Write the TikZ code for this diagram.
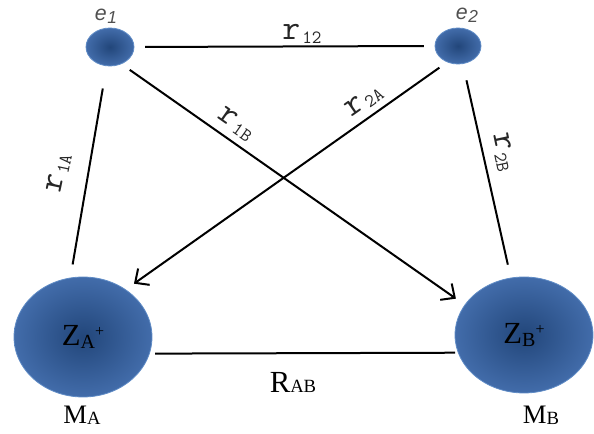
\documentclass[tikz,border=0pt]{standalone}
\usepackage{fontspec}
\setmainfont{Liberation Serif}
\newfontfamily\sansfnt{Liberation Sans}
\usetikzlibrary{shapes.geometric,arrows.meta}
\definecolor{ballin}{RGB}{34,70,122}
\definecolor{ballout}{RGB}{66,108,170}
\definecolor{ballrim}{RGB}{96,140,198}
\definecolor{elabel}{RGB}{80,80,80}
\newcommand\rlabtext[1]{r\kern1.5pt\raisebox{-2.5pt}{\fontsize{14}{15}\selectfont #1}}
\begin{document}
\begin{tikzpicture}[x=0.75pt,y=-0.75pt,
  ball/.style={ellipse,inner sep=0pt,shading=radial,inner color=ballin,outer color=ballout,draw=ballrim,line width=0.6pt},
  conn/.style={line width=1.5pt,draw=black},
  arr/.style={conn,-{Straight Barb[length=8pt,width=15pt,line width=1.5pt]}},
  rlab/.style={font=\ttfamily\fontsize{26}{27}\selectfont,inner sep=0pt,text=black!85},
  elab/.style={font=\sansfnt\itshape\fontsize{16}{18}\selectfont,inner sep=0pt,text=elabel},
  slab/.style={inner sep=0pt,text=black}]
\useasboundingbox (0,0) rectangle (594,434);
% particles
\node[ball,minimum width=36pt,minimum height=28.5pt] (e1) at (110,47) {};
\node[ball,minimum width=34.5pt,minimum height=27pt] (e2) at (458,46) {};
\node[ball,minimum width=103.5pt,minimum height=90pt] (za) at (83,337)
  {\fontsize{23}{24}\selectfont Z\raisebox{-2pt}{\fontsize{15}{16}\selectfont A}\raisebox{7pt}{\fontsize{12}{13}\selectfont +}};
\node[ball,minimum width=103.5pt,minimum height=87pt] (zb) at (524,335)
  {\fontsize{23}{24}\selectfont Z\raisebox{-2pt}{\fontsize{15}{16}\selectfont B}\raisebox{7pt}{\fontsize{12}{13}\selectfont +}};
% labels of particles
\node[elab] (le1) at (106,16) {e\kern0.5pt\raisebox{-2pt}{\fontsize{13}{14}\selectfont 1}};
\node[elab] (le2) at (467,15) {e\kern0.5pt\raisebox{-2pt}{\fontsize{13}{14}\selectfont 2}};
\node[slab] (ma) at (82,415) {\fontsize{20}{22}\selectfont M\raisebox{-1pt}{\fontsize{14}{15}\selectfont A}};
\node[slab] (mb) at (541,415) {\fontsize{20}{22}\selectfont M\raisebox{-1pt}{\fontsize{14}{15}\selectfont B}};
% connectors
\draw[conn,shorten <=8pt,shorten >=8pt] (e1.east) -- (e2.west);
\draw[conn,shorten <=17pt,shorten >=10pt] (e1.-100) -- (za.102);
\draw[conn,shorten <=12.5pt,shorten >=10pt] (e2.-75) -- (zb.103);
\draw[arr,shorten <=7.5pt,shorten >=8pt] (e1.-56) -- (zb.153);
\draw[arr,shorten <=7pt,shorten >=7.5pt] (e2.-124) -- (za.48);
\draw[conn,shorten <=4pt,shorten >=2pt] (za.-14) -- (zb.-165);
% connector labels
\node[rlab] (l12) at (302,34) {\rlabtext{12}};
\node[rlab,rotate=-35] (l1b) at (236,124) {\rlabtext{1B}};
\node[rlab,rotate=35] (l2a) at (364,101) {\rlabtext{2A}};
\node[rlab,rotate=78] (l1a) at (59,173) {\rlabtext{1A}};
\node[rlab,rotate=-78] (l2b) at (503,152) {\rlabtext{2B}};
\node[slab] (lab) at (293,382) {\fontsize{23}{24}\selectfont R{\fontsize{14}{15}\selectfont AB}};
\end{tikzpicture}
\end{document}
